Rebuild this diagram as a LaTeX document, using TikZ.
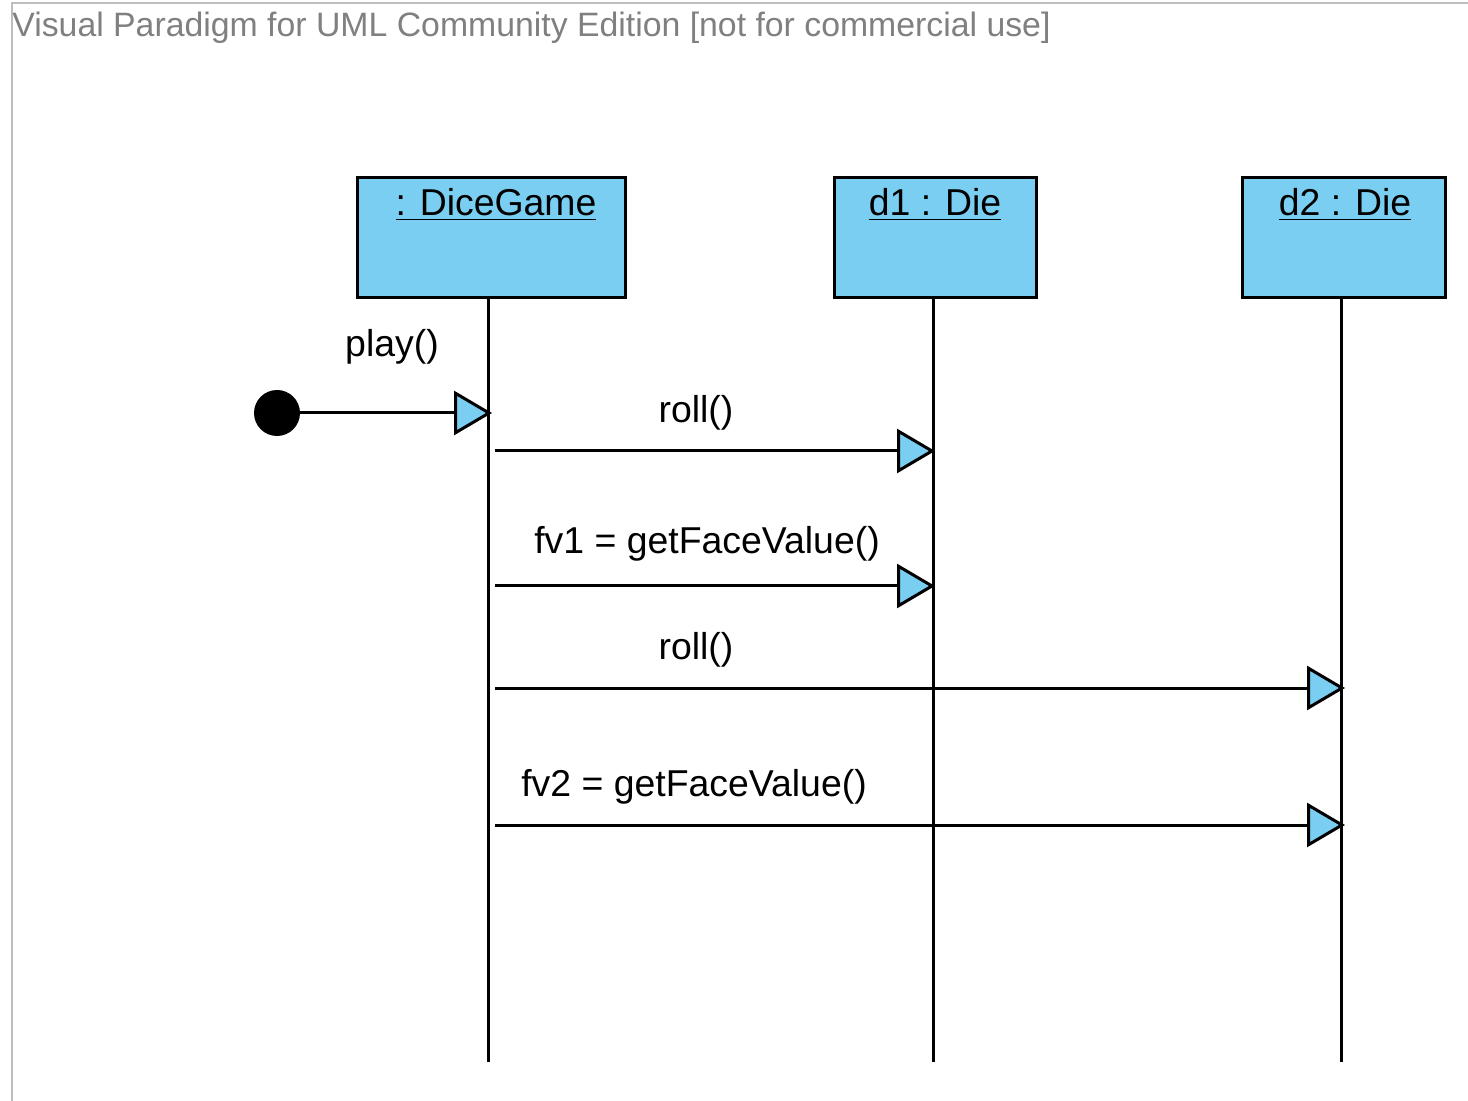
\documentclass[tikz,border=0pt]{standalone}
\usepackage{fontspec}
\setmainfont{Liberation Sans}
\usetikzlibrary{arrows.meta}
\definecolor{objblue}{RGB}{122,206,242}
\definecolor{framegray}{RGB}{190,190,190}
\definecolor{titlegray}{RGB}{128,128,128}
\tikzset{
  objbox/.style={draw=black, fill=objblue, line width=1.5pt, minimum width=#1, minimum height=60pt, inner sep=0pt, anchor=north west},
  lifeline/.style={draw=black, line width=1.5pt},
  msg/.style={draw=black, line width=1.5pt, -{Triangle[length=19pt,width=22pt,fill=objblue]}, shorten <=2pt},
  msglabel/.style={font=\fontsize{18.7}{22}\selectfont, anchor=base, inner sep=0pt},
  objlabel/.style={font=\fontsize{18.7}{22}\selectfont, anchor=base, inner sep=0pt},
}
\begin{document}
\begin{tikzpicture}[x=0.5pt, y=-0.5pt]
  \useasboundingbox (0,0) rectangle (1468,1101);
  % diagram frame (only its top and left edges fall inside the page)
  \draw[framegray, line width=1pt] (12,1101) -- (12,3) -- (1468,3);
  \node[anchor=base west, inner sep=0pt, text=titlegray, font=\fontsize{16.9}{20}\selectfont] (title) at (12,37) {Visual Paradigm for UML Community Edition [not for commercial use]};

  % objects
  \node[objbox=134pt] (game) at (356,176) {};
  \node[objbox=101pt] (d1) at (833,176) {};
  \node[objbox=101.5pt] (d2) at (1241,176) {};
  \node[objlabel] (gamelbl) at (496,216) {\underline{: DiceGame}};
  \node[objlabel] (d1lbl) at (935,216) {\underline{d1 : Die}};
  \node[objlabel] (d2lbl) at (1345,216) {\underline{d2 : Die}};

  % lifelines
  \coordinate (gtop) at (488,297);   \coordinate (gbot) at (488,1062);
  \coordinate (d1top) at (933,297);  \coordinate (d1bot) at (933,1062);
  \coordinate (d2top) at (1341,297); \coordinate (d2bot) at (1341,1062);
  \draw[lifeline] (gtop) -- (gbot);
  \draw[lifeline] (d1top) -- (d1bot);
  \draw[lifeline] (d2top) -- (d2bot);

  % found message play()
  \node[circle, fill=black, minimum size=23pt, inner sep=0pt] (start) at (277,413) {};
  \coordinate (playend) at (492,413);
  \draw[msg, shorten <=0pt] (start) -- (playend);
  \node[msglabel] (playlbl) at (392,357) {play()};

  % message end points on the lifelines
  \coordinate (m1s) at (491,451);  \coordinate (m1e) at (935,451);
  \coordinate (m2s) at (491,586);  \coordinate (m2e) at (935,586);
  \coordinate (m3s) at (491,688);  \coordinate (m3e) at (1345,688);
  \coordinate (m4s) at (491,825);  \coordinate (m4e) at (1345,825);

  \draw[msg] (m1s) -- (m1e);
  \node[msglabel] (m1lbl) at (696,423) {roll()};
  \draw[msg] (m2s) -- (m2e);
  \node[msglabel] (m2lbl) at (707,553) {fv1 = getFaceValue()};
  \draw[msg] (m3s) -- (m3e);
  \node[msglabel] (m3lbl) at (696,660) {roll()};
  \draw[msg] (m4s) -- (m4e);
  \node[msglabel] (m4lbl) at (694,796) {fv2 = getFaceValue()};
\end{tikzpicture}
\end{document}
